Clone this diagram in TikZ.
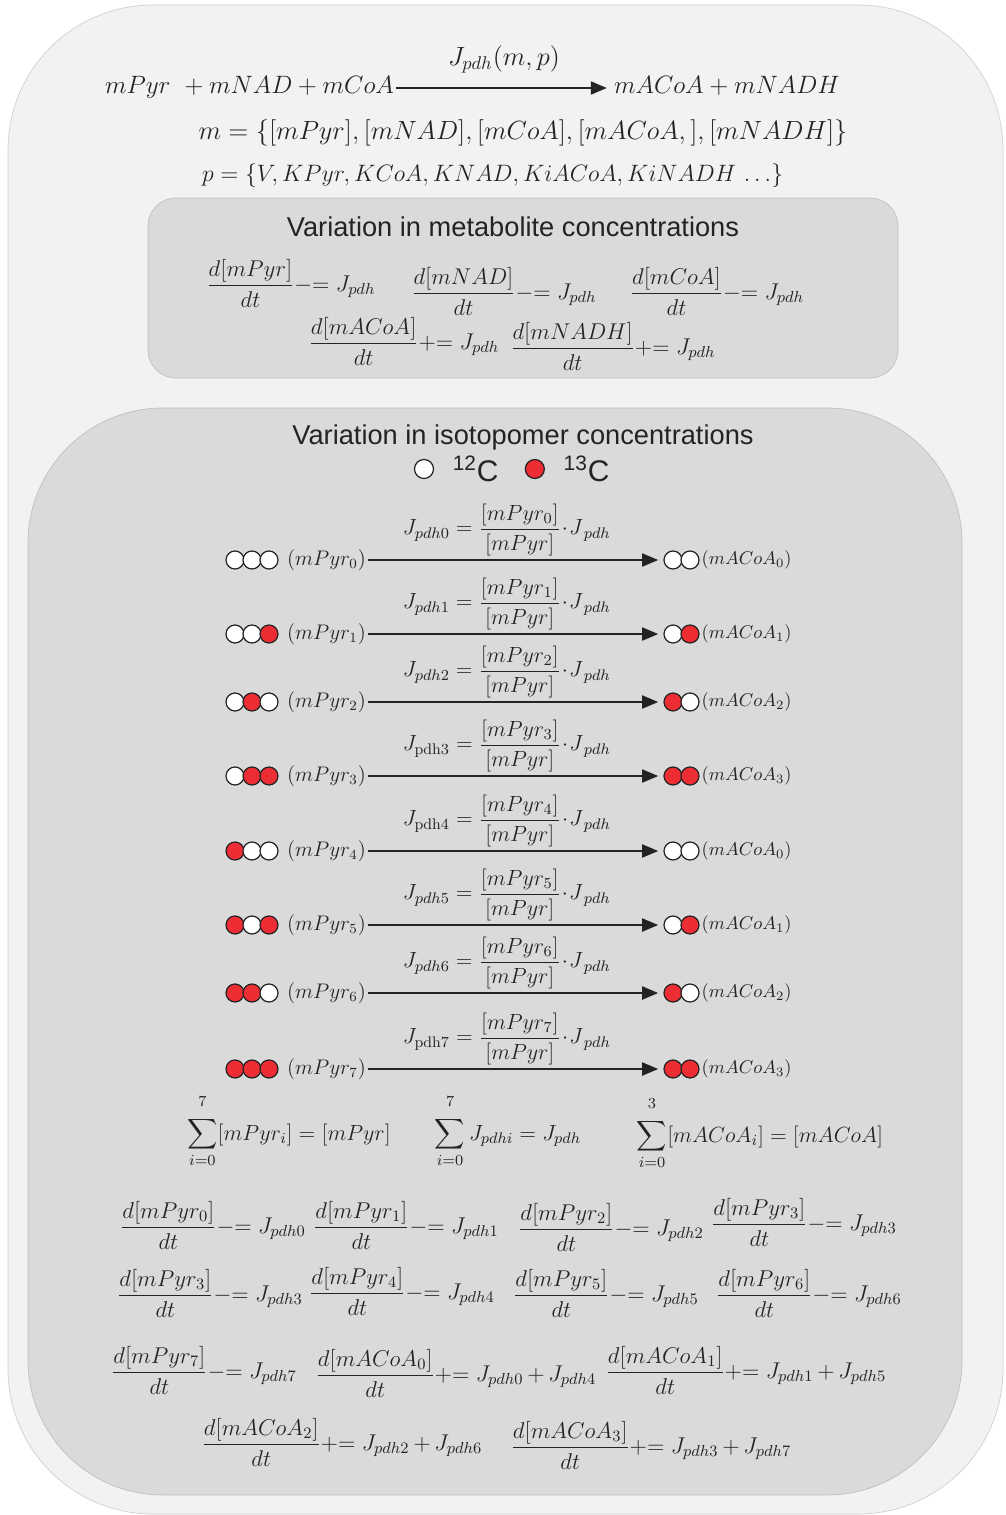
\RequirePackage{fix-cm}
\documentclass[tikz,border=0pt]{standalone}
\usepackage{amsmath}
\usepackage{fontspec}
\setsansfont{Liberation Sans}
\usepackage{tikz}
\usetikzlibrary{arrows,positioning}

\definecolor{outerfill}{RGB}{242,242,242}
\definecolor{outerline}{RGB}{208,208,208}
\definecolor{boxfill}{RGB}{217,218,217}
\definecolor{boxline}{RGB}{192,192,192}
\definecolor{isored}{RGB}{236,46,52}
\definecolor{inktext}{RGB}{35,35,35}

\newcommand{\subeq}{{-}{=}\mkern5mu}
\newcommand{\addeq}{{+}{=}\mkern5mu}
\newcommand{\uplim}[1]{\raisebox{4pt}{$\scriptstyle #1$}}

\begin{document}
\begin{tikzpicture}[x=0.02cm,y=-0.02cm,>=triangle 45,
                    flow/.style={->,line width=1.1pt,draw=inktext,shorten >=3pt},
                    topeq/.style={font=\fontsize{14.3}{17}\selectfont,text=inktext,inner sep=1pt,
                                  text height=2.2ex,text depth=0.7ex},
                    seteq/.style={font=\fontsize{15}{18}\selectfont,text=inktext,inner sep=1pt},
                    eqn/.style={font={\fontsize{13}{16}\selectfont\medmuskip=3mu},text=inktext,inner sep=0pt},
                    lbl/.style={font=\fontsize{12.5}{15}\selectfont,text=inktext,inner sep=1pt},
                    plbl/.style={font=\fontsize{12}{15}\selectfont,text=inktext,inner sep=1pt},
                    albl/.style={font=\fontsize{10.5}{13}\selectfont,text=inktext,inner sep=1pt},
                    ttl/.style={font=\sffamily\fontsize{15.5}{18}\selectfont,text=inktext},
                    iso/.style={circle,draw=inktext,line width=0.7pt,minimum size=0.36cm,inner sep=0pt}]

 \useasboundingbox (0,0) rectangle (1005,1515);

 % panels
 \draw[fill=outerfill,draw=outerline,rounded corners=2.9cm] (8,5) rectangle (1003,1514);
 \draw[fill=boxfill,draw=boxline,rounded corners=0.56cm] (148,198) rectangle (898,378);
 \draw[fill=boxfill,draw=boxline,rounded corners=2.7cm] (28,408) rectangle (962,1495);

 % overall reaction
 \node[topeq,anchor=east] (lhs) at (396,88) {$mPyr\ +mNAD+mCoA$};
 \node[topeq,anchor=west] (rhs) at (612,88) {$mACoA+mNADH$};
 \draw[flow] (lhs) -- node[seteq,above=7pt] (jpdh) {$J_{pdh}(m,p)$} (rhs);
 \node[seteq] (mset) at (523,133) {$m=\{[mPyr],[mNAD],[mCoA],[mACoA,],[mNADH]\}$};
 \node[seteq,font=\fontsize{13.5}{16}\selectfont,anchor=west] (pset) at (200,176)
      {$p=\{V,KPyr,KCoA,KNAD,KiACoA,KiNADH\,\ldots\}$};

 % metabolites
 \node[ttl] (tmet) at (513,227) {Variation in metabolite concentrations};
 \node[eqn] (em1) at (291,283) {$\dfrac{d[mPyr]}{dt}\subeq J_{pdh}$};
 \node[eqn] (em2) at (504,291) {$\dfrac{d[mNAD]}{dt}\subeq J_{pdh}$};
 \node[eqn] (em3) at (717,291) {$\dfrac{d[mCoA]}{dt}\subeq J_{pdh}$};
 \node[eqn] (em4) at (404,341) {$\dfrac{d[mACoA]}{dt}\addeq J_{pdh}$};
 \node[eqn] (em5) at (613,346) {$\dfrac{d[mNADH]}{dt}\addeq J_{pdh}$};

 % isotopomers
 \node[ttl] (tiso) at (523,437) {Variation in isotopomer concentrations};
 \node[iso,fill=white,minimum size=0.38cm] (c12) at (424,469) {};
 \node[ttl,font=\sffamily\fontsize{17}{20}\selectfont,right=0.25cm of c12] (t12) {\textsuperscript{12}C};
 \node[iso,fill=isored,minimum size=0.38cm,right=0.4cm of t12] (c13) {};
 \node[ttl,font=\sffamily\fontsize{17}{20}\selectfont,right=0.25cm of c13] (t13) {\textsuperscript{13}C};

 \foreach \k/\y/\ca/\cb/\cc/\sb in {0/560/white/white/white/pdh,
                                    1/634/white/white/isored/pdh,
                                    2/702/white/isored/white/pdh,
                                    3/776/white/isored/isored/\mathrm{pdh},
                                    4/851/isored/white/white/\mathrm{pdh},
                                    5/925/isored/white/isored/pdh,
                                    6/993/isored/isored/white/pdh,
                                    7/1069/isored/isored/isored/\mathrm{pdh}}{
   \pgfmathtruncatemacro\j{mod(\k,4)}
   \node[iso,fill=\ca] (l\k a) at (235,\y) {};
   \node[iso,fill=\cb] (l\k b) at (252,\y) {};
   \node[iso,fill=\cc] (l\k c) at (269,\y) {};
   \node[plbl,anchor=west] (pyr\k) at (285,\y) {$(mPyr_{\k})$};
   \node[iso,fill=\cb] (r\k a) at (673,\y) {};
   \node[iso,fill=\cc] (r\k b) at (690,\y) {};
   \node[albl,anchor=west] (acoa\k) at (r\k b.east) {$(mACoA_{\j})$};
   \draw[flow] (pyr\k.east) -- node[lbl,above=1pt,pos=0.47] (jl\k)
        {$J_{\sb\k}=\dfrac{[mPyr_{\k}]}{[mPyr]}\!\cdot\! J_{\,pdh}$} (r\k a.west);
 }

 % sums
 \node[lbl] (s1) at (289,1131) {$\displaystyle\sum_{i=0}^{\uplim{7}}[mPyr_i]=[mPyr]$};
 \node[lbl] (s2) at (508,1131) {$\displaystyle\sum_{i=0}^{\uplim{7}}J_{pdhi}=J_{pdh}$};
 \node[lbl] (s3) at (760,1133) {$\displaystyle\sum_{i=0}^{\uplim{3}}[mACoA_i]=[mACoA]$};

 % isotopomer balances
 \node[eqn] (ep0) at (213,1225) {$\dfrac{d[mPyr_0]}{dt}\subeq J_{pdh0}$};
 \node[eqn] (ep1) at (406,1225) {$\dfrac{d[mPyr_1]}{dt}\subeq J_{pdh1}$};
 \node[eqn] (ep2) at (611,1227) {$\dfrac{d[mPyr_2]}{dt}\subeq J_{pdh2}$};
 \node[eqn] (ep3) at (804,1222) {$\dfrac{d[mPyr_3]}{dt}\subeq J_{pdh3}$};
 \node[eqn] (eq3) at (210,1293) {$\dfrac{d[mPyr_3]}{dt}\subeq J_{pdh3}$};
 \node[eqn] (ep4) at (402,1291) {$\dfrac{d[mPyr_4]}{dt}\subeq J_{pdh4}$};
 \node[eqn] (ep5) at (606,1293) {$\dfrac{d[mPyr_5]}{dt}\subeq J_{pdh5}$};
 \node[eqn] (ep6) at (809,1293) {$\dfrac{d[mPyr_6]}{dt}\subeq J_{pdh6}$};
 \node[eqn] (ep7) at (204,1370) {$\dfrac{d[mPyr_7]}{dt}\subeq J_{pdh7}$};
 \node[eqn] (ea0) at (456,1373) {$\dfrac{d[mACoA_0]}{dt}\addeq J_{pdh0}+J_{pdh4}$};
 \node[eqn] (ea1) at (746,1370) {$\dfrac{d[mACoA_1]}{dt}\addeq J_{pdh1}+J_{pdh5}$};
 \node[eqn] (ea2) at (342,1442) {$\dfrac{d[mACoA_2]}{dt}\addeq J_{pdh2}+J_{pdh6}$};
 \node[eqn] (ea3) at (651,1445) {$\dfrac{d[mACoA_3]}{dt}\addeq J_{pdh3}+J_{pdh7}$};

\end{tikzpicture}
\end{document}
